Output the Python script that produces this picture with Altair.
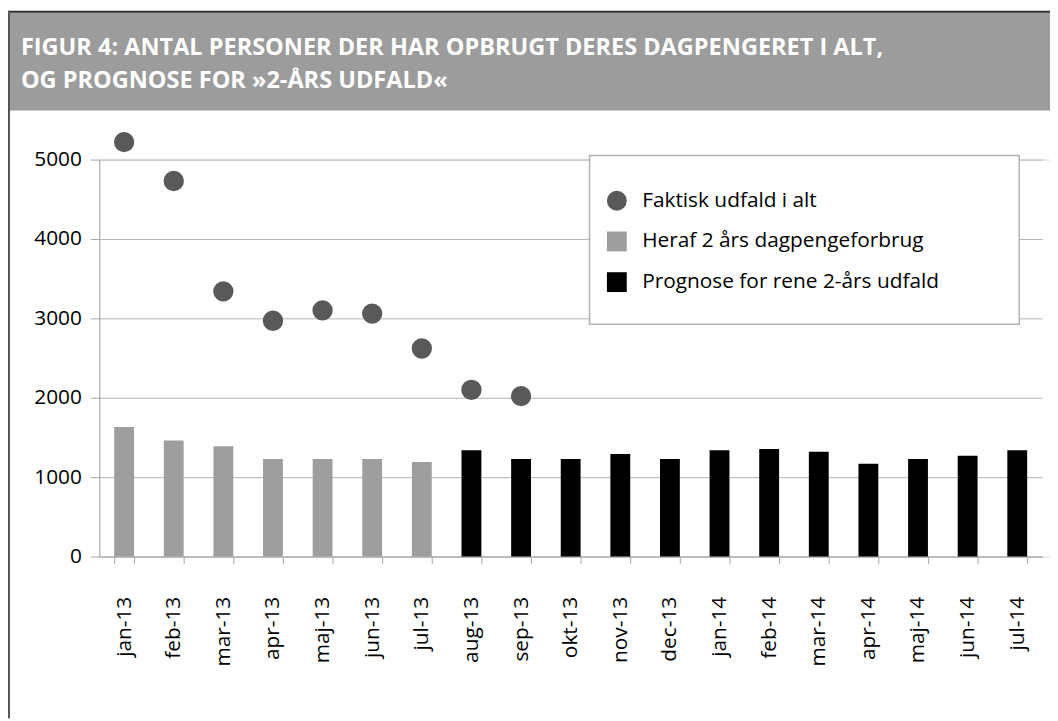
import altair as alt
import pandas as pd

months = ["jan-13", "feb-13", "mar-13", "apr-13", "maj-13", "jun-13", "jul-13",
          "aug-13", "sep-13", "okt-13", "nov-13", "dec-13", "jan-14", "feb-14",
          "mar-14", "apr-14", "maj-14", "jun-14", "jul-14"]
bar_values = [1630, 1460, 1390, 1230, 1230, 1230, 1190,
              1340, 1230, 1230, 1290, 1230, 1340, 1355,
              1320, 1170, 1230, 1270, 1340]
series = ["Faktisk udfald i alt", "Heraf 2 års dagpengeforbrug",
          "Prognose for rene 2-års udfald"]
bar_series = [series[1]] * 7 + [series[2]] * 12
dot_months = months[:9]
dot_values = [5220, 4730, 3340, 2970, 3100, 3060, 2620, 2100, 2020]
colors = ["#595959", "#9d9e9d", "#000000"]
shapes = ["circle", "square", "square"]
y_ticks = [0, 1000, 2000, 3000, 4000, 5000]
title_lines = ["FIGUR 4: ANTAL PERSONER DER HAR OPBRUGT DERES DAGPENGERET I ALT,",
               "OG PROGNOSE FOR »2-ÅRS UDFALD«"]

FONT = "Open Sans"

bars_df = pd.DataFrame({"month": months, "value": bar_values, "series": bar_series})
dots_df = pd.DataFrame({"month": dot_months, "value": dot_values,
                        "series": [series[0]] * len(dot_months)})
one = alt.Data(values=[{"k": 1}])

x_enc = alt.X("month:N", sort=months,
              scale=alt.Scale(domain=months, range=[0, 950],
                              paddingInner=0.6, paddingOuter=0.3),
              axis=alt.Axis(title=None, labelAngle=-90, labelAlign="right",
                            labelBaseline="middle", tickBand="extent", tickSize=7,
                            labelPadding=33, labelFontSize=21, labelColor="#000",
                            labelFont=FONT, grid=False, domainColor="#a6a6a6",
                            tickColor="#a6a6a6"))
y_enc = alt.Y("value:Q", scale=alt.Scale(domain=[0, 5000], nice=False),
              axis=alt.Axis(title=None, values=y_ticks, format="d", tickSize=9,
                            labelFontSize=21, labelFont=FONT, labelColor="#000",
                            labelPadding=9, grid=True, gridColor="#b3b3b3",
                            domainColor="#a6a6a6", tickColor="#a6a6a6"))
legend_opts = dict(title=None, orient="none", legendX=511, legendY=31,
                   symbolSize=400, symbolStrokeWidth=0, labelFontSize=21,
                   labelFont=FONT, labelColor="#000", labelOffset=15,
                   rowPadding=19, padding=0, labelLimit=0)
color_enc = alt.Color("series:N", scale=alt.Scale(domain=series, range=colors),
                      legend=alt.Legend(**legend_opts))
shape_enc = alt.Shape("series:N", scale=alt.Scale(domain=series, range=shapes),
                      legend=alt.Legend(**legend_opts))

band = alt.Chart(one).mark_rect(fill="#9b9c9b").encode(
    x=alt.value(-92), x2=alt.value(958), y=alt.value(-148), y2=alt.value(-49.5))
topline = alt.Chart(one).mark_rect(fill="#2b2b2b").encode(
    x=alt.value(-92), x2=alt.value(958), y=alt.value(-150), y2=alt.value(-148))
leftline = alt.Chart(one).mark_rect(fill="#555555").encode(
    x=alt.value(-92), x2=alt.value(-90), y=alt.value(-150), y2=alt.value(563))
t1 = alt.Chart(one).mark_text(align="left", baseline="alphabetic", font=FONT,
                              fontSize=23.7, fontWeight="bold", color="white").encode(
    x=alt.value(-79), y=alt.value(-105), text=alt.value(title_lines[0]))
t2 = alt.Chart(one).mark_text(align="left", baseline="alphabetic", font=FONT,
                              fontSize=23.7, fontWeight="bold", color="white").encode(
    x=alt.value(-79), y=alt.value(-72), text=alt.value(title_lines[1]))
legend_box = alt.Chart(one).mark_rect(fill="white", stroke="#b3b3b3",
                                      strokeWidth=1.5).encode(
    x=alt.value(494), x2=alt.value(927), y=alt.value(-4), y2=alt.value(166))

bars = alt.Chart(bars_df).mark_bar().encode(x=x_enc, y=y_enc, color=color_enc)
dots = alt.Chart(dots_df).mark_point(filled=True, size=420, opacity=1).encode(
    x=alt.X("month:N", sort=months), y="value:Q", color=color_enc, shape=shape_enc)

chart = alt.layer(band, topline, leftline, t1, t2, bars, dots, legend_box).properties(
    width=958, height=400,
    padding={"left": 92, "top": 150, "right": 0, "bottom": 163},
    autosize=alt.AutoSizeParams(type="none"),
).configure_view(stroke=None).configure(background="white")

chart.save("out.html", embed_options={"renderer": "svg", "actions": False})
